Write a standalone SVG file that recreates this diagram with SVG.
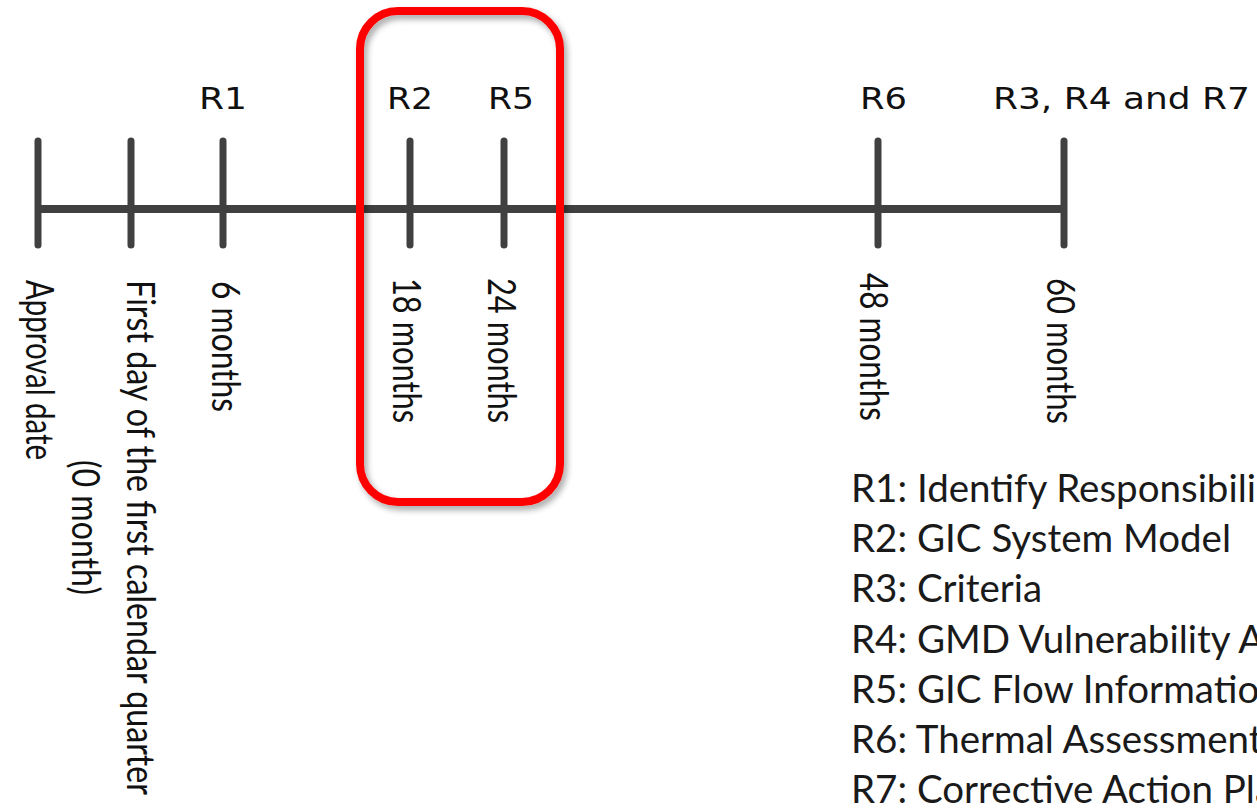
<svg xmlns="http://www.w3.org/2000/svg" width="1257" height="810" viewBox="0 0 1257 810">
<style>
.axis{stroke:#404040;stroke-width:8;fill:none}
.tick{stroke:#404040;stroke-width:7;stroke-linecap:round;fill:none}
.top{font-family:"DejaVu Sans",sans-serif;font-size:30px;fill:#111}
.vert{font-family:Lato,"Liberation Sans",sans-serif;font-size:34px;fill:#111}
.leg{font-family:Lato,"Liberation Sans",sans-serif;font-size:38.5px;fill:#1a1a1a}
</style>
<defs>
<filter id="sh" x="-20%" y="-20%" width="140%" height="140%">
<feDropShadow dx="3" dy="4" stdDeviation="3" flood-color="#000" flood-opacity="0.35"/>
</filter>
</defs>
<rect width="1257" height="810" fill="#fff"/>
<g id="connectors">
<line class="axis" x1="38" y1="209" x2="1064" y2="209"/>
</g>
<g id="t0"><line class="tick" x1="38" y1="141" x2="38" y2="245"/>
<text class="vert" transform="translate(26,280) rotate(90) scale(1,1.12)" textLength="180" lengthAdjust="spacingAndGlyphs">Approval date</text></g>
<g id="t0q"><line class="tick" x1="131" y1="141" x2="131" y2="245"/>
<text class="vert" transform="translate(127,280) rotate(90) scale(1,1.12)" textLength="515" lengthAdjust="spacingAndGlyphs">First day of the first calendar quarter</text>
<text class="vert" transform="translate(72,460) rotate(90) scale(1,1.12)" textLength="135" lengthAdjust="spacingAndGlyphs">(0 month)</text></g>
<g id="t6"><line class="tick" x1="223" y1="141" x2="223" y2="245"/>
<text class="top" x="199" y="109" textLength="48" lengthAdjust="spacingAndGlyphs">R1</text>
<text class="vert" transform="translate(212,281) rotate(90) scale(1,1.12)" textLength="131" lengthAdjust="spacingAndGlyphs">6 months</text></g>
<g id="t18"><line class="tick" x1="410" y1="141" x2="410" y2="245"/>
<text class="top" x="387" y="109" textLength="46" lengthAdjust="spacingAndGlyphs">R2</text>
<text class="vert" transform="translate(393,278) rotate(90) scale(1,1.12)" textLength="145" lengthAdjust="spacingAndGlyphs">18 months</text></g>
<g id="t24"><line class="tick" x1="504" y1="141" x2="504" y2="245"/>
<text class="top" x="488" y="109" textLength="46" lengthAdjust="spacingAndGlyphs">R5</text>
<text class="vert" transform="translate(488,278) rotate(90) scale(1,1.12)" textLength="145" lengthAdjust="spacingAndGlyphs">24 months</text></g>
<g id="t48"><line class="tick" x1="878" y1="141" x2="878" y2="245"/>
<text class="top" x="860" y="109" textLength="47" lengthAdjust="spacingAndGlyphs">R6</text>
<text class="vert" transform="translate(860,273) rotate(90) scale(1,1.12)" textLength="148" lengthAdjust="spacingAndGlyphs">48 months</text></g>
<g id="t60"><line class="tick" x1="1064" y1="141" x2="1064" y2="245"/>
<text class="top" x="993" y="109" textLength="257" lengthAdjust="spacingAndGlyphs">R3, R4 and R7</text>
<text class="vert" transform="translate(1047,278) rotate(90) scale(1,1.12)" textLength="146" lengthAdjust="spacingAndGlyphs">60 months</text></g>
<g id="highlight">
<rect x="360" y="11" width="200" height="491" rx="38" ry="38" fill="none" stroke="#ff0000" stroke-width="8" filter="url(#sh)"/>
</g>
<g id="legend">
<text class="leg" x="851" y="502">R1: Identify Responsibili</text>
<text class="leg" x="851" y="552">R2: GIC System Model</text>
<text class="leg" x="851" y="602">R3: Criteria</text>
<text class="leg" x="851" y="653">R4: GMD Vulnerability A</text>
<text class="leg" x="851" y="703">R5: GIC Flow Informatio</text>
<text class="leg" x="851" y="753">R6: Thermal Assessment</text>
<text class="leg" x="851" y="803">R7: Corrective Action Pla</text>
</g>
</svg>
